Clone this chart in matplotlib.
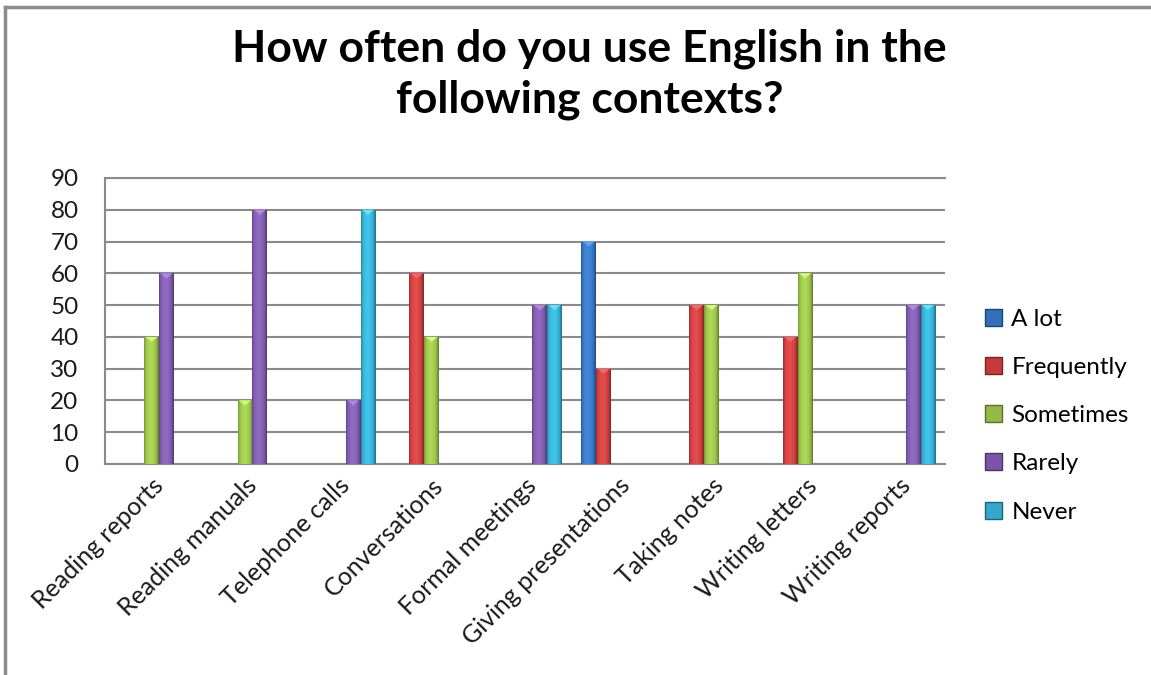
import numpy as np
import matplotlib.pyplot as plt
from matplotlib.colors import to_rgb, LinearSegmentedColormap
from matplotlib.lines import Line2D
from matplotlib.patches import Polygon, Patch

# data
categories = ["Reading reports", "Reading manuals", "Telephone calls", "Conversations",
              "Formal meetings", "Giving presentations", "Taking notes",
              "Writing letters", "Writing reports"]
series = ["A lot", "Frequently", "Sometimes", "Rarely", "Never"]
a_lot = [0, 0, 0, 0, 0, 70, 0, 0, 0]
frequently = [0, 0, 0, 60, 0, 30, 50, 40, 0]
sometimes = [40, 20, 0, 40, 0, 0, 50, 60, 0]
rarely = [60, 80, 20, 0, 50, 0, 0, 0, 50]
never = [0, 0, 80, 0, 50, 0, 0, 0, 50]
values = [a_lot, frequently, sometimes, rarely, never]
colors = ["#3270BC", "#C43B3A", "#93BA45", "#7A56A6", "#31A8CC"]

plt.rcParams['font.family'] = ['Lato', 'DejaVu Sans']

fig = plt.figure(figsize=(11.51, 6.75), dpi=100)
ax = fig.add_axes([105/1151, 1 - 464/675, 840/1151, 286/675])

x = np.arange(len(categories))
bw = 1 / 6.3


def shaded(c):
    r = np.array(to_rgb(c))
    dark = r * 0.62
    light = np.clip(r * 1.12 + 0.06, 0, 1)
    return LinearSegmentedColormap.from_list("s", [dark, r, light])


# horizontal shading profile of a bar: dark edges, bright middle-left
t = np.linspace(0, 1, 40)
profile = np.clip(0.15 + 0.85 * np.sin(np.pi * t) ** 0.6 - 0.25 * t, 0, 1)
grad = profile[np.newaxis, :]

for i, (name, vals) in enumerate(zip(series, values)):
    bars = ax.bar(x + (i - 2) * bw, vals, bw, color=colors[i], zorder=3, label=name)
    cmap = shaded(colors[i])
    for p in bars.patches:
        h = p.get_height()
        if h <= 0:
            p.set_visible(False)
            continue
        x0, y0 = p.get_xy()
        w = p.get_width()
        im = ax.imshow(grad, extent=[x0, x0 + w, y0, y0 + h], aspect='auto',
                       cmap=cmap, vmin=0, vmax=1, zorder=4, interpolation='bicubic')
        im.set_clip_path(p)
        light = np.clip(np.array(to_rgb(colors[i])) * 1.2 + 0.12, 0, 1)
        tri = Polygon([[x0 + w * 0.1, y0 + h], [x0 + w * 0.9, y0 + h],
                       [x0 + w / 2, y0 + h - 1.6]], closed=True,
                      facecolor=light, edgecolor='none', zorder=5)
        ax.add_patch(tri)

ax.set_xlim(-0.5, len(categories) - 0.5)
ax.set_ylim(0, 90)
ax.set_yticks(range(0, 91, 10))
ax.yaxis.grid(True, color='#8a8a8a', linewidth=1.5)
ax.set_axisbelow(True)
ax.spines["right"].set_visible(False)
for s in ["left", "top", "bottom"]:
    ax.spines[s].set_color('#8a8a8a')
    ax.spines[s].set_linewidth(1.5)
ax.tick_params(length=0, labelsize=17.5, colors='#1a1a1a')
ax.tick_params(axis='y', pad=19)
ax.set_xticks(x)
ax.set_xticklabels(categories, rotation=45, ha='right', rotation_mode='anchor', fontsize=18)
ax.tick_params(axis='x', pad=7)

handles = [Patch(facecolor=c, edgecolor=np.array(to_rgb(c)) * 0.6) for c in colors]
fig.legend(handles, series, loc='upper left', bbox_to_anchor=(975/1151, 1 - 299/675),
           frameon=False, fontsize=17.5, handlelength=0.7, handleheight=0.7,
           handletextpad=0.4, labelspacing=1.12, borderaxespad=0)

fig.text(0.512, 1 - 74/675, "How often do you use English in the\nfollowing contexts?",
         ha='center', va='center', fontsize=32, fontweight='bold', linespacing=1.32)

# chart area border (only left and top edges show in the crop)
bc = '#8c8c8c'
fig.add_artist(Line2D([5/1151, 5/1151], [0, 1 - 7/675], transform=fig.transFigure,
                      color=bc, linewidth=2.5))
fig.add_artist(Line2D([5/1151, 1], [1 - 7/675, 1 - 7/675], transform=fig.transFigure,
                      color=bc, linewidth=2.5))

fig.savefig("out.png", dpi=100)
